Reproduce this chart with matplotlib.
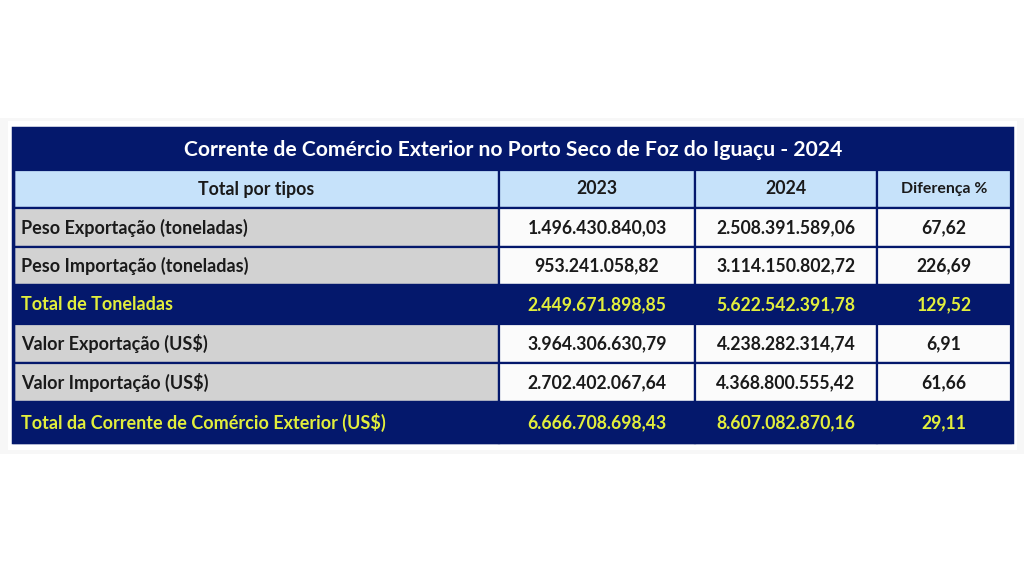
#!/usr/bin/env python3

import matplotlib.pyplot as plt
from matplotlib.patches import Rectangle

# =========================
# DATA
# =========================
title = "Corrente de Comércio Exterior no Porto Seco de Foz do Iguaçu - 2024"
header = ["Total por tipos", "2023", "2024", "Diferença %"]

row_labels = [
    "Peso Exportação (toneladas)",
    "Peso Importação (toneladas)",
    "Total de Toneladas",
    "Valor Exportação (US$)",
    "Valor Importação (US$)",
    "Total da Corrente de Comércio Exterior (US$)",
]
values_2023 = ["1.496.430.840,03", "953.241.058,82", "2.449.671.898,85",
               "3.964.306.630,79", "2.702.402.067,64", "6.666.708.698,43"]
values_2024 = ["2.508.391.589,06", "3.114.150.802,72", "5.622.542.391,78",
               "4.238.282.314,74", "4.368.800.555,42", "8.607.082.870,16"]
diff_pct = ["67,62", "226,69", "129,52", "6,91", "61,66", "29,11"]
is_total = [False, False, True, False, False, True]

# =========================
# STYLE
# =========================
NAVY = "#04186c"
LIGHT_BLUE = "#c6e2fa"
GRAY = "#d2d2d2"
WHITE = "#fbfbfb"
YELLOW = "#e2ee3c"
TEXT = "#1a1a1a"
FONT = ["Lato", "DejaVu Sans"]

col_edges = [14, 499, 695, 877, 1011]
row_edges = [127, 170, 208, 247, 285, 324, 363, 402, 443]

fig = plt.figure(figsize=(10.24, 5.76), dpi=100)
ax = fig.add_axes([0, 0, 1, 1])
ax.set_xlim(0, 1024)
ax.set_ylim(576, 0)
ax.axis("off")

# faint panel behind the table
ax.add_patch(Rectangle((0, 118), 1024, 336, facecolor="#f7f7f7", edgecolor="none"))
ax.add_patch(Rectangle((8, 121), 1009, 329, facecolor="#ffffff", edgecolor="none"))

# outer navy frame + title row
ax.add_patch(Rectangle((12, 127), 1001, 316, facecolor=NAVY, edgecolor="none"))
ax.text(513, (row_edges[0] + row_edges[1]) / 2 + 1, title, ha="center", va="center",
        color="white", fontsize=15.2, fontweight="bold", family=FONT)


def cell(c, r, face):
    x0, x1 = col_edges[c], col_edges[c + 1]
    y0, y1 = row_edges[r], row_edges[r + 1]
    ax.add_patch(Rectangle((x0, y0), x1 - x0, y1 - y0, facecolor=face,
                           edgecolor=NAVY, linewidth=1.6))
    return x0, x1, (y0 + y1) / 2


# header row
for c, h in enumerate(header):
    x0, x1, yc = cell(c, 1, LIGHT_BLUE)
    fs = 11.4 if c == 3 else 12.8
    ax.text((x0 + x1) / 2, yc, h, ha="center", va="center", color=TEXT,
            fontsize=fs, fontweight="bold", family=FONT)

# body rows
for i, label in enumerate(row_labels):
    r = i + 2
    cols = [label, values_2023[i], values_2024[i], diff_pct[i]]
    for c, txt in enumerate(cols):
        if is_total[i]:
            face, color = NAVY, YELLOW
        else:
            face, color = (GRAY if c == 0 else WHITE), TEXT
        x0, x1, yc = cell(c, r, face)
        if c == 0:
            ax.text(x0 + 7, yc, txt, ha="left", va="center", color=color,
                    fontsize=13, fontweight="bold", family=FONT)
        else:
            ax.text((x0 + x1) / 2, yc, txt, ha="center", va="center", color=color,
                    fontsize=12.7, fontweight="bold", family=FONT)

# redraw navy frame edge on top
ax.add_patch(Rectangle((13, 128), 999, 314, facecolor="none", edgecolor=NAVY, linewidth=2.5))

plt.savefig("out.png", dpi=100)
